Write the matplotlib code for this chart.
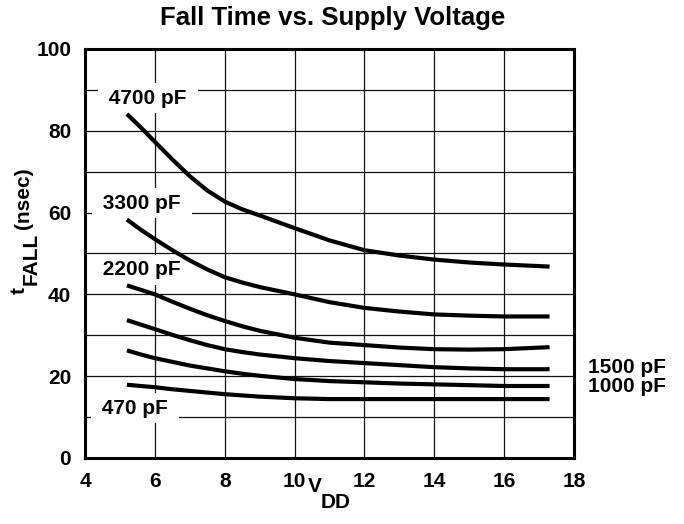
import matplotlib
matplotlib.use("Agg")
import matplotlib.pyplot as plt

plt.rcParams['font.family'] = ['Liberation Sans', 'DejaVu Sans']
plt.rcParams['font.weight'] = 'bold'

# supply voltage (V) where the curves were read
vdd = [5.2, 5.6, 6, 6.5, 7, 7.5, 8, 8.5, 9, 10, 11, 12, 13, 14, 15, 16, 17.3]

# fall time (nsec) per load capacitance
t_4700 = [84.1, 80.8, 77.3, 73.0, 68.9, 65.4, 62.7, 60.8, 59.3, 56.2, 53.2, 50.8, 49.5, 48.5, 47.8, 47.3, 46.8]
t_3300 = [58.3, 55.8, 53.5, 50.8, 48.3, 46.1, 44.2, 42.9, 41.8, 40.0, 38.1, 36.7, 35.8, 35.1, 34.8, 34.6, 34.6]
t_2200 = [42.2, 41.1, 40.0, 38.2, 36.5, 34.9, 33.5, 32.2, 31.1, 29.4, 28.2, 27.6, 27.0, 26.6, 26.5, 26.6, 27.1]
t_1500 = [33.7, 32.6, 31.5, 30.1, 28.8, 27.6, 26.6, 25.9, 25.3, 24.4, 23.7, 23.2, 22.7, 22.2, 21.9, 21.7, 21.7]
t_1000 = [26.3, 25.3, 24.4, 23.5, 22.6, 21.9, 21.2, 20.6, 20.1, 19.3, 18.8, 18.5, 18.2, 18.0, 17.8, 17.6, 17.6]
t_470 = [17.9, 17.6, 17.3, 16.8, 16.4, 16.0, 15.6, 15.3, 15.0, 14.6, 14.4, 14.4, 14.4, 14.4, 14.4, 14.4, 14.4]

curves = [t_4700, t_3300, t_2200, t_1500, t_1000, t_470]

x_ticks = [4, 6, 8, 10, 12, 14, 16, 18]
y_ticks = [0, 20, 40, 60, 80, 100]

fs = 15

fig = plt.figure(figsize=(6.84, 5.24), dpi=100)
ax = fig.add_axes([0.1243, 0.126, 0.7149, 0.7805])

ax.set_xlim(4, 18)
ax.set_ylim(0, 100)

# grid: every 2 V and every 10 nsec
for gx in range(6, 18, 2):
    ax.axvline(gx, color='#111111', lw=0.9, zorder=1)
for gy in range(10, 100, 10):
    ax.axhline(gy, color='#111111', lw=0.9, zorder=1)

for c in curves:
    ax.plot(vdd, c, color='black', lw=3.0, solid_capstyle='butt',
            solid_joinstyle='round', zorder=4)

# labels inside the plot hide the grid behind them
box = dict(boxstyle='square,pad=0.25', fc='white', ec='none')
ax.text(5.80, 88.0, ' 4700 pF ', fontsize=fs, ha='center', va='center', bbox=box, zorder=3)
ax.text(5.63, 62.3, ' 3300 pF ', fontsize=fs, ha='center', va='center', bbox=box, zorder=3)
ax.text(5.63, 46.0, ' 2200 pF ', fontsize=fs, ha='center', va='center', bbox=box, zorder=3)
ax.text(5.43, 12.2, ' 470 pF ', fontsize=fs, ha='center', va='center', bbox=box, zorder=3)
ax.text(18.40, 22.2, '1500 pF', fontsize=fs, ha='left', va='center', clip_on=False)
ax.text(18.40, 17.4, '1000 pF', fontsize=fs, ha='left', va='center', clip_on=False)

ax.set_xticks(x_ticks)
ax.set_yticks(y_ticks)
ax.tick_params(length=0, labelsize=fs, pad=10)
for s in ax.spines.values():
    s.set_linewidth(2.2)
    s.set_zorder(5)

fig.text(333 / 684, 1 - 18 / 524, 'Fall Time vs. Supply Voltage',
         fontsize=18.5, fontweight='bold', ha='center', va='center')

# x label V_DD
fig.text(315 / 684, 1 - 487 / 524, 'V', fontsize=fs, ha='center', va='center')
fig.text(321 / 684, 1 - 502 / 524, 'DD', fontsize=fs, ha='left', va='center')

# y label t_FALL (nsec)
fig.text(19 / 684, 1 - 290 / 524, 't', fontsize=fs, rotation=90, ha='center', va='center')
fig.text(31 / 684, 1 - 259 / 524, 'FALL', fontsize=fs, rotation=90, ha='center', va='center')
fig.text(23 / 684, 1 - 198 / 524, '(nsec)', fontsize=fs, rotation=90, ha='center', va='center')

fig.savefig('out.png', dpi=100)
